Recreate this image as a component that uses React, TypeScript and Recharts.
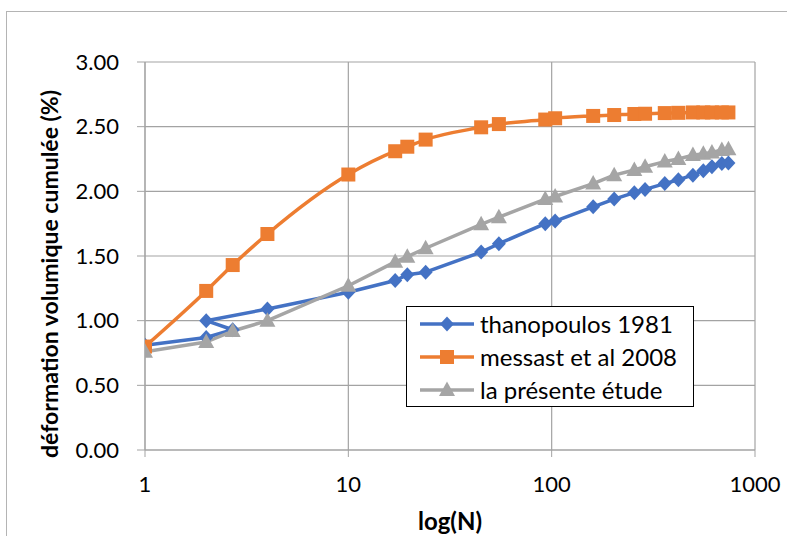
import { CartesianGrid, Legend, Line, LineChart, XAxis, YAxis } from "recharts";

// number of cycles N, shared by the two smooth series
const cycles = [1, 2, 2.7, 4, 10, 17, 19.5, 24, 45, 55, 93, 104, 160, 203, 255, 288, 360, 420, 495, 557, 614, 687, 740];
// thanopoulos goes back to N=2 once, hence its own abscissae
const thanoCycles = [1, 2, 2.7, 2, 4, 10, 17, 19.5, 24, 45, 55, 93, 104, 160, 203, 255, 288, 360, 420, 495, 557, 614, 687, 740];

const thanopoulos = [0.81, 0.87, 0.93, 1.0, 1.09, 1.22, 1.31, 1.355, 1.375, 1.53, 1.595, 1.75, 1.77, 1.88, 1.94, 1.99, 2.015, 2.06, 2.09, 2.125, 2.16, 2.19, 2.215, 2.22];
const messast = [0.8, 1.23, 1.43, 1.67, 2.13, 2.31, 2.345, 2.4, 2.495, 2.52, 2.555, 2.565, 2.583, 2.59, 2.598, 2.6, 2.605, 2.607, 2.61, 2.61, 2.61, 2.61, 2.61];
const presente = [0.76, 0.835, 0.92, 1.0, 1.27, 1.455, 1.495, 1.56, 1.745, 1.8, 1.94, 1.96, 2.06, 2.125, 2.165, 2.19, 2.23, 2.25, 2.28, 2.29, 2.3, 2.32, 2.325];

const xTicks = [1, 10, 100, 1000];
const yTicks = [0, 0.5, 1, 1.5, 2, 2.5, 3];

const FONT = "Lato, 'Open Sans', sans-serif";
const GRID = "#a3a3a3";

type Shape = "diamond" | "square" | "triangle";

const series = [
  { name: "thanopoulos 1981", color: "#4472C4", shape: "diamond" as Shape, curve: "linear" as const, data: thanoCycles.map((n, i) => ({ n, v: thanopoulos[i] })) },
  { name: "messast et al 2008", color: "#ED7D31", shape: "square" as Shape, curve: "monotone" as const, data: cycles.map((n, i) => ({ n, v: messast[i] })) },
  { name: "la présente étude", color: "#A5A5A5", shape: "triangle" as Shape, curve: "linear" as const, data: cycles.map((n, i) => ({ n, v: presente[i] })) },
];

const Marker = ({ cx, cy, shape, color }: { cx?: number; cy?: number; shape: Shape; color: string }) => {
  if (cx == null || cy == null) return null;
  if (shape === "diamond") {
    return <polygon points={`${cx},${cy - 7.5} ${cx + 7},${cy} ${cx},${cy + 7.5} ${cx - 7},${cy}`} fill={color} />;
  }
  if (shape === "square") {
    return <rect x={cx - 7} y={cy - 7} width={14} height={14} fill={color} />;
  }
  return <polygon points={`${cx},${cy - 8.5} ${cx + 8},${cy + 6} ${cx - 8},${cy + 6}`} fill={color} />;
};

const LegendBox = () => (
  <div
    style={{
      border: "1.5px solid #000",
      background: "#fff",
      boxSizing: "border-box",
      fontFamily: FONT,
      fontSize: 24,
      color: "#000",
      paddingLeft: 13,
    }}
  >
    {series.map((s) => (
      <div key={s.name} style={{ display: "flex", alignItems: "center", height: 33 }}>
        <svg width={54} height={20}>
          <line x1={0} y1={10} x2={54} y2={10} stroke={s.color} strokeWidth={3.5} />
          <Marker cx={27} cy={10} shape={s.shape} color={s.color} />
        </svg>
        <span style={{ marginLeft: 6, whiteSpace: "nowrap" }}>{s.name}</span>
      </div>
    ))}
  </div>
);

const YTitle = () => (
  <text
    x={58}
    y={274}
    transform="rotate(-90, 58, 274)"
    textAnchor="middle"
    fontFamily={FONT}
    fontWeight="bold"
    fontSize={23}
    fill="#000"
  >
    déformation volumique cumulée (%)
  </text>
);

const XTitle = () => (
  <text x={450} y={530} textAnchor="middle" fontFamily={FONT} fontWeight="bold" fontSize={24} fill="#000">
    log(N)
  </text>
);

export default function App() {
  return (
    <>
      <div
        style={{
          position: "absolute",
          left: 6,
          top: 11,
          width: 781,
          height: 525,
          boxSizing: "border-box",
          borderLeft: "1px solid #b4b4b4",
          borderTop: "1px solid #b4b4b4",
        }}
      />
      <div style={{ position: "absolute", left: 0, top: 0, width: 787, height: 536 }}>
        <LineChart width={787} height={536} margin={{ top: 62, right: 32, bottom: 0, left: 0 }}>
          <CartesianGrid stroke={GRID} strokeWidth={1.2} />
          <XAxis
            dataKey="n"
            type="number"
            scale="log"
            domain={[1, 1000]}
            ticks={xTicks}
            allowDataOverflow
            height={86}
            stroke={GRID}
            tickSize={7}
            tickMargin={19}
            tick={{ fill: "#000", fontSize: 22, fontFamily: FONT }}
            label={<XTitle />}
          />
          <YAxis
            type="number"
            domain={[0, 3]}
            ticks={yTicks}
            width={145}
            stroke={GRID}
            tickSize={8}
            tickMargin={18}
            tickFormatter={(v: number) => v.toFixed(2)}
            tick={{ fill: "#000", fontSize: 22, fontFamily: FONT }}
            label={<YTitle />}
          />
          {series.map((s) => (
            <Line
              key={s.name}
              data={s.data}
              dataKey="v"
              name={s.name}
              type={s.curve}
              stroke={s.color}
              strokeWidth={3.5}
              strokeLinejoin="round"
              isAnimationActive={false}
              dot={(p: any) => <Marker key={`${s.name}-${p.index}`} cx={p.cx} cy={p.cy} shape={s.shape} color={s.color} />}
              activeDot={false}
            />
          ))}
          <Legend
            layout="vertical"
            align="center"
            verticalAlign="middle"
            content={<LegendBox />}
            wrapperStyle={{ left: 406, top: 306, width: 288 }}
          />
        </LineChart>
      </div>
    </>
  );
}
